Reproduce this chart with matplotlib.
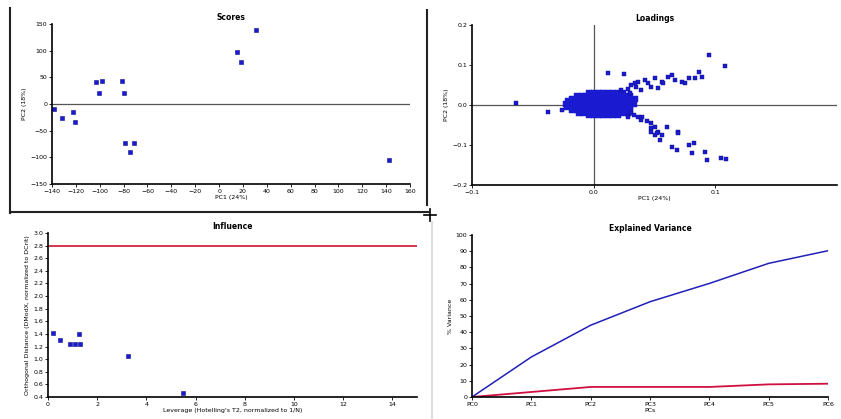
import matplotlib
matplotlib.use("Agg")
import matplotlib.pyplot as plt
from matplotlib.lines import Line2D

# ---- data ----
score_x = [-138, -132, -122, -121, -103, -98, -101, -81, -80, -79, -75, -71, 15, 18, 31, 142]
score_y = [-9, -26, -15, -34, 41, 43, 21, 43, 21, -73, -90, -73, 97, 79, 139, -105]

# dense loading cloud near the origin, one row of x values per y level
blob_rows = {
    0.030: [-0.004, 0.000, 0.004, 0.008, 0.012, 0.016, 0.020, 0.024],
    0.023: [-0.014, -0.010, -0.006, -0.002, 0.002, 0.006, 0.010, 0.014, 0.018, 0.022, 0.026, 0.030],
    0.016: [-0.018, -0.014, -0.010, -0.006, -0.002, 0.002, 0.006, 0.010, 0.014, 0.018, 0.022, 0.026, 0.030, 0.034],
    0.009: [-0.021, -0.017, -0.013, -0.009, -0.005, -0.001, 0.003, 0.007, 0.011, 0.015, 0.019, 0.023, 0.027, 0.031],
    0.002: [-0.023, -0.019, -0.015, -0.011, -0.007, -0.003, 0.001, 0.005, 0.009, 0.013, 0.017, 0.021, 0.025, 0.029, 0.033],
    -0.005: [-0.022, -0.018, -0.014, -0.010, -0.006, -0.002, 0.002, 0.006, 0.010, 0.014, 0.018, 0.022, 0.026, 0.030],
    -0.012: [-0.018, -0.014, -0.010, -0.006, -0.002, 0.002, 0.006, 0.010, 0.014, 0.018, 0.022, 0.026, 0.030],
    -0.019: [-0.012, -0.008, -0.004, 0.000, 0.004, 0.008, 0.012, 0.016, 0.020, 0.024, 0.028],
    -0.026: [-0.004, 0.000, 0.004, 0.008, 0.012, 0.016, 0.020],
}
upper_x = [0.0225, 0.0308, 0.0364, 0.0419, 0.050, 0.0558, 0.0614, 0.0669, 0.0725, 0.078, 0.0836, 0.0892,
           0.0864, 0.0114, 0.0253, 0.0336, 0.0392, 0.0475, 0.053, 0.0572, 0.0642, 0.0753, 0.030, 0.035,
           0.028, 0.045, 0.0947, 0.108, -0.0636]
upper_y = [0.0375, 0.050, 0.0583, 0.0625, 0.0667, 0.0583, 0.0708, 0.0625, 0.0583, 0.0667, 0.0667, 0.0708,
           0.0833, 0.0792, 0.0775, 0.0542, 0.0375, 0.0458, 0.0417, 0.0542, 0.075, 0.0542, 0.030, 0.045,
           0.040, 0.055, 0.125, 0.0975, 0.004]
lower_x = [0.0308, 0.0364, 0.0392, 0.0475, 0.0475, 0.050, 0.053, 0.0558, 0.050, 0.0544, 0.060, 0.0697,
           0.0697, 0.0642, 0.0683, 0.078, 0.0822, 0.0808, 0.0919, 0.0933, 0.1044, 0.1086, 0.0475, 0.0517,
           0.028, 0.033, 0.040, 0.044, -0.0372, -0.0261]
lower_y = [-0.0208, -0.0292, -0.0375, -0.0458, -0.0583, -0.0542, -0.0667, -0.075, -0.075, -0.0875, -0.0542, -0.0667,
           -0.0708, -0.104, -0.1125, -0.100, -0.0958, -0.121, -0.117, -0.1375, -0.133, -0.136, -0.0667, -0.0708,
           -0.030, -0.025, -0.030, -0.040, -0.0167, -0.0125]

lev_x = [0.2, 0.49, 0.9, 1.1, 1.3, 1.26, 3.25, 5.5]
dmodx_y = [1.42, 1.30, 1.24, 1.24, 1.24, 1.40, 1.05, 0.46]
dcrit = 2.8

pcs = ["PC0", "PC1", "PC2", "PC3", "PC4", "PC5", "PC6"]
r2x = [0, 24.7, 44.3, 58.8, 70.1, 82.5, 90.3]
q2 = [0, 3.1, 6.2, 6.2, 6.2, 7.8, 8.2]

# ---- figure ----
W, H = 841, 419
fig = plt.figure(figsize=(W / 100, H / 100), dpi=100)
plt.rcParams['font.family'] = 'DejaVu Sans'
blue = '#1a1ad0'


def box(l, r, t, b):
    return [l / W, 1 - b / H, (r - l) / W, (b - t) / H]


def style(ax, title):
    for s in ['top', 'right']:
        ax.spines[s].set_visible(False)
    for s in ['left', 'bottom']:
        ax.spines[s].set_linewidth(1.2)
    ax.tick_params(labelsize=4.5, length=2, width=0.6, pad=1.5)
    ax.set_title(title, fontsize=5.5, fontweight='bold', pad=3)


# Scores
ax1 = fig.add_axes(box(52, 410, 24, 184))
ax1.axhline(0, color='#555555', lw=0.9)
ax1.plot(score_x, score_y, 's', color=blue, ms=2.2, mec='#10108a', mew=0.4)
ax1.set_xlim(-140, 160)
ax1.set_ylim(-150, 150)
ax1.set_xticks(range(-140, 161, 20))
ax1.set_yticks(range(-150, 151, 50))
ax1.set_xlabel("PC1 (24%)", fontsize=4.5, labelpad=1)
ax1.set_ylabel("PC2 (18%)", fontsize=4.5, labelpad=2)
style(ax1, "Scores")

# Loadings
ax2 = fig.add_axes(box(472, 837, 25, 185))
ax2.axhline(0, color='#555555', lw=0.9)
ax2.axvline(0, color='#555555', lw=0.9)
bx = [x for yv, xs in blob_rows.items() for x in xs]
by = [yv for yv, xs in blob_rows.items() for x in xs]
ax2.plot(bx, by, 's', color=blue, ms=4.6, mec=blue, mew=0.3)
ax2.plot(upper_x + lower_x, upper_y + lower_y, 's', color=blue, ms=2.8, mec='#10108a', mew=0.3)
ax2.set_xlim(-0.1, 0.2)
ax2.set_ylim(-0.2, 0.2)
ax2.set_xticks([-0.1, 0, 0.1])
ax2.set_yticks([-0.2, -0.1, 0, 0.1, 0.2])
ax2.set_xlabel("PC1 (24%)", fontsize=4.5, labelpad=1)
ax2.set_ylabel("PC2 (18%)", fontsize=4.5, labelpad=2)
style(ax2, "Loadings")

# Influence
ax3 = fig.add_axes(box(48, 417, 233, 397))
ax3.axhline(dcrit, color='#d01030', lw=1.2)
ax3.plot(lev_x, dmodx_y, 's', color=blue, ms=2.2, mec='#10108a', mew=0.4)
ax3.set_xlim(0, 15)
ax3.set_ylim(0.4, 3.0)
ax3.set_xticks(range(0, 15, 2))
ax3.set_yticks([0.4 + 0.2 * i for i in range(14)])
ax3.set_yticklabels([f"{0.4 + 0.2 * i:.1f}" for i in range(14)])
ax3.set_xlabel("Leverage (Hotelling's T2, normalized to 1/N)", fontsize=4.5, labelpad=1)
ax3.set_ylabel("Orthogonal Distance (DModX, normalized to DCrit)", fontsize=4.5, labelpad=2)
style(ax3, "Influence")

# Explained variance
ax4 = fig.add_axes(box(472, 828, 235, 397))
ax4.plot(pcs, r2x, color='#2020b8', lw=1.1)
ax4.plot(pcs, q2, color='#d01040', lw=1.3)
ax4.set_xlim(0, len(pcs) - 1)
ax4.set_ylim(0, 100)
ax4.set_yticks(range(0, 101, 10))
ax4.set_xlabel("PCs", fontsize=4.5, labelpad=1)
ax4.set_ylabel("% Variance", fontsize=4.5, labelpad=2)
style(ax4, "Explained Variance")

# window frame bits around the panels
fig.add_artist(Line2D([10 / W, 10 / W], [1 - 8 / H, 1 - 213 / H], color='#222222', lw=1.5))
fig.add_artist(Line2D([10 / W, 428 / W], [1 - 212 / H, 1 - 212 / H], color='#222222', lw=1.5))
fig.add_artist(Line2D([427 / W, 427 / W], [1 - 10 / H, 1 - 205 / H], color='#222222', lw=1.5))
fig.add_artist(Line2D([432 / W, 432 / W], [1 - 222 / H, 0], color='#dddddd', lw=1.5))
fig.add_artist(Line2D([424 / W, 436 / W], [1 - 215 / H, 1 - 215 / H], color='black', lw=1.2))
fig.add_artist(Line2D([430 / W, 430 / W], [1 - 209 / H, 1 - 221 / H], color='black', lw=1.2))

fig.savefig("out.png", dpi=100)
